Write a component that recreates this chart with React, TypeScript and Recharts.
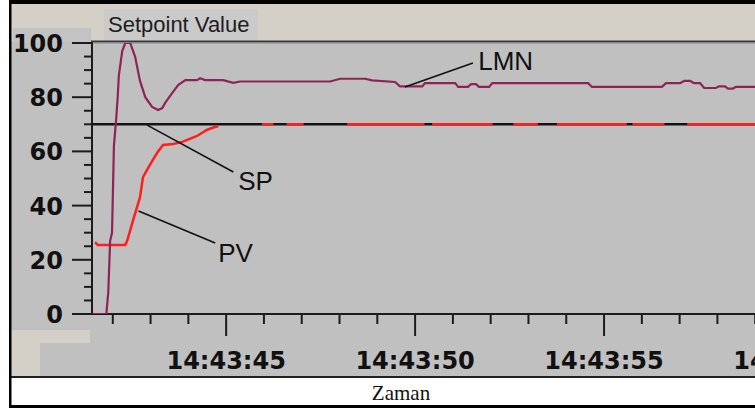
import React from 'react';
import { LineChart, Line, XAxis, YAxis, ReferenceLine, ReferenceDot } from 'recharts';

// Seconds after 14:43:40 on the time axis
const secondTicks = [2, 3, 4, 5, 6, 7, 8, 9, 10, 11, 12, 13, 14, 15, 16, 17, 18, 19, 20];
const majorSeconds = [5, 10, 15, 20];
const timeLabels = ['14:43:45', '14:43:50', '14:43:55', '14:44:00'];

// Value axis: minor ticks every 5, labels every 20
const valueTicks = [0, 5, 10, 15, 20, 25, 30, 35, 40, 45, 50, 55, 60, 65, 70, 75, 80, 85, 90, 95, 100];
const majorValues = [0, 20, 40, 60, 80, 100];
const valueLabels = ['0', '20', '40', '60', '80', '100'];

// Setpoint
const spSeries: [number, number][] = [
  [1.45, 70],
  [20, 70],
];

// Process value (null where the trace is hidden behind the setpoint)
const pvSeries: [number, number | null][] = [
  [1.53, 26.5], [1.6, 25.5], [2.33, 25.5], [2.38, 27], [2.54, 34.7], [2.72, 43],
  [2.8, 50.5], [2.94, 54], [3.17, 59.4], [3.33, 62.4], [3.6, 62.7], [3.84, 63.5],
  [4.23, 65.7], [4.5, 68], [4.66, 68.8], [4.79, 69.3],
  [4.8, null],
  [5.95, 70], [6.25, 70], [6.3, null],
  [6.6, 70], [7.05, 70], [7.1, null],
  [8.2, 70], [10.25, 70], [10.3, null],
  [10.45, 70], [12.05, 70], [12.1, null],
  [12.6, 70], [13.25, 70], [13.3, null],
  [13.75, 70], [15.6, 70], [15.65, null],
  [15.75, 70], [16.6, 70], [16.65, null],
  [17.2, 70], [20, 70],
];

// Manipulated value
const lmnSeries: [number, number][] = [
  [1.48, 0], [1.83, 0], [1.88, 8], [1.93, 27], [1.98, 30], [2.03, 62], [2.09, 72],
  [2.13, 80], [2.16, 88], [2.25, 97], [2.33, 100], [2.46, 100], [2.59, 95], [2.72, 86],
  [2.86, 80], [3.04, 76.4], [3.2, 75.3], [3.31, 76], [3.39, 78], [3.57, 81.5],
  [3.73, 84.5], [3.92, 86.3], [4.23, 86.3], [4.31, 87], [4.44, 86.3], [4.92, 86.3],
  [5.19, 85.3], [5.37, 85.8], [7.75, 85.8], [8.02, 86.8], [8.68, 86.8], [8.86, 86.2],
  [9.47, 85.6], [9.6, 84], [10.19, 84], [10.26, 85.2], [11.06, 85.2], [11.14, 83.8],
  [11.4, 83.8], [11.48, 84.8], [11.61, 84.8], [11.69, 83.8], [11.96, 83.8],
  [12.04, 85.2], [14.58, 85.2], [14.68, 83.8], [16.53, 83.8], [16.64, 85.2],
  [17.01, 85.2], [17.12, 86], [17.28, 86], [17.38, 85.2], [17.54, 85.2], [17.65, 83.4],
  [17.96, 83.4], [18.04, 84], [18.2, 84], [18.28, 83.2], [18.41, 83.2], [18.49, 83.8],
  [20, 83.8],
];

// Trace callouts: leader from the trace to the name
const calloutNames = ['LMN', 'SP', 'PV'];
const calloutFrom: [number, number][] = [[9.73, 83.8], [2.91, 69.7], [2.68, 38]];
const calloutTo: [number, number][] = [[11.53, 92.6], [5.19, 52.4], [4.71, 26.2]];
const calloutText: [number, number][] = [[11.67, 90.0], [5.32, 45.8], [4.79, 19.2]];

const toRows = (s: [number, number | null][]) => s.map(([t, v]) => ({ t, v }));

const AXIS = '#1c1c1c';
const TICK_FONT = '"DejaVu Sans", sans-serif';

const XTick = (props: any) => {
  const { x, y, payload } = props;
  const idx = majorSeconds.indexOf(payload.value);
  const major = idx >= 0;
  return (
    <g>
      <line x1={x} x2={x} y1={y + 1} y2={y + (major ? 22 : 10)} stroke={AXIS} strokeWidth={2} />
      {major && (
        <text x={x} y={y + 55} textAnchor="middle" fontFamily={TICK_FONT} fontWeight="bold" fontSize={24} fill="#111">
          {timeLabels[idx]}
        </text>
      )}
    </g>
  );
};

const YTick = (props: any) => {
  const { x, y, payload } = props;
  const idx = majorValues.indexOf(payload.value);
  const major = idx >= 0;
  return (
    <g>
      <line x1={x - (major ? 20 : 8)} x2={x} y1={y} y2={y} stroke={AXIS} strokeWidth={2} />
      {major && (
        <text x={x - 29} y={y + 9} textAnchor="end" fontFamily={TICK_FONT} fontWeight="bold" fontSize={24} fill="#111">
          {valueLabels[idx]}
        </text>
      )}
    </g>
  );
};

// Window frame, panels and the plot frame lines, drawn beneath the traces
const Panel = () => (
  <svg width={755} height={410} style={{ position: 'absolute', left: 0, top: 0 }}>
    <rect x={0} y={0} width={755} height={410} fill="#ffffff" />
    <rect x={11} y={4} width={744} height={372} fill="#c0c0c0" />
    <rect x={11} y={4} width={744} height={38} fill="#d4d0c8" />
    <rect x={13} y={28} width={78} height={14} fill="#c3c3c3" />
    <rect x={104} y={9} width={154} height={33} fill="#cacaca" />
    <rect x={11} y={330} width={79} height={13} fill="#d4d0c8" />
    <rect x={11} y={343} width={29} height={33} fill="#d4d0c8" />
    <rect x={91} y={40.5} width={664} height={2} fill="#3a3a3a" />
    <rect x={91} y={42.5} width={664} height={1} fill="#8a8a8a" />
    <rect x={91} y={42} width={2} height={273} fill={AXIS} />
    <rect x={91} y={313} width={664} height={2} fill={AXIS} />
    <rect x={11} y={376} width={744} height={2} fill="#222" />
    <rect x={9} y={0} width={746} height={4} fill="#000" />
    <rect x={9} y={0} width={2.5} height={408} fill="#000" />
    <rect x={9} y={405} width={746} height={3} fill="#000" />
    <text x={108} y={32} fontFamily='"Liberation Sans", Arial, sans-serif' fontSize={22} fill="#1e1e1e">
      Setpoint Value
    </text>
    <text x={401} y={400} textAnchor="middle" fontFamily='"Liberation Serif", "Times New Roman", serif' fontSize={21} fill="#111">
      Zaman
    </text>
  </svg>
);

export default function App() {
  return (
    <div style={{ position: 'fixed', left: 0, top: 0, width: 755, height: 410, overflow: 'hidden', background: '#fff' }}>
      <Panel />
      <div style={{ position: 'absolute', left: 0, top: 0 }}>
        <LineChart width={800} height={410} margin={{ top: 43, right: 7, bottom: 0, left: 0 }}>
          <XAxis
            type="number"
            dataKey="t"
            domain={[1.45, 20]}
            ticks={secondTicks}
            interval={0}
            allowDataOverflow
            tick={<XTick />}
            tickLine={false}
            tickSize={0}
            tickMargin={0}
            height={96}
            axisLine={false}
          />
          <YAxis
            type="number"
            dataKey="v"
            domain={[0, 100]}
            ticks={valueTicks}
            interval={0}
            allowDataOverflow
            tick={<YTick />}
            tickLine={false}
            tickSize={0}
            tickMargin={0}
            width={92}
            axisLine={false}
          />
          <Line data={toRows(spSeries)} dataKey="v" type="linear" stroke="#141414" strokeWidth={2.5} dot={false} isAnimationActive={false} />
          <Line data={toRows(pvSeries)} dataKey="v" type="linear" stroke="#ff1e1e" strokeWidth={2.5} dot={false} connectNulls={false} isAnimationActive={false} />
          <Line data={toRows(lmnSeries)} dataKey="v" type="linear" stroke="#8e2456" strokeWidth={2.2} dot={false} isAnimationActive={false} />
          {calloutNames.map((name, i) => (
            <ReferenceLine
              key={'leader-' + name}
              segment={[
                { x: calloutFrom[i][0], y: calloutFrom[i][1] },
                { x: calloutTo[i][0], y: calloutTo[i][1] },
              ]}
              stroke="#111"
              strokeWidth={1.6}
            />
          ))}
          {calloutNames.map((name, i) => (
            <ReferenceDot
              key={'name-' + name}
              x={calloutText[i][0]}
              y={calloutText[i][1]}
              r={0}
              shape={(p: any) => (
                <text x={p.cx} y={p.cy} fontFamily='"Liberation Sans", Arial, sans-serif' fontSize={26} fill="#111">
                  {name}
                </text>
              )}
            />
          ))}
        </LineChart>
      </div>
    </div>
  );
}
